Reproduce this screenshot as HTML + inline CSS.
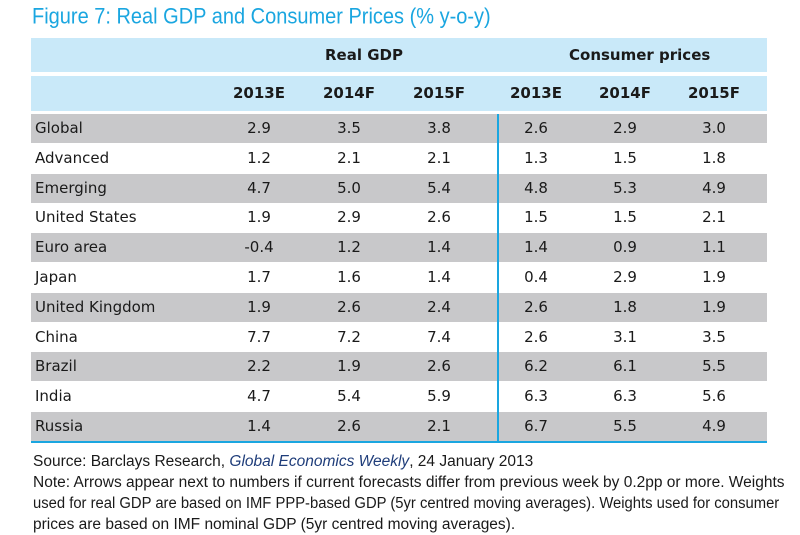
<!DOCTYPE html>
<html><head><meta charset="utf-8"><style>
body{margin:0;width:800px;height:527px;background:#fff;position:relative;overflow:hidden;font-family:"DejaVu Sans","Liberation Sans",sans-serif;color:#1a1a1a}
.a{position:absolute}
.title{left:32px;top:5px;font-size:20px;color:#1aa6e0;font-family:"Liberation Sans",sans-serif;transform:scaleY(1.1);transform-origin:left top}
.band{left:31px;width:736px;background:#c9e9f9}
.row{left:31px;width:736px;height:29px}
.g{background:#c8c8ca}
.c{position:absolute;width:80px;text-align:center;font-size:15px;line-height:29px;top:0}
.lab{position:absolute;left:4px;font-size:15px;line-height:29px;top:0}
.h{font-weight:bold;font-size:15px}
.src{left:33px;font-size:15.5px;line-height:21px;top:451px;white-space:nowrap;font-family:"Liberation Sans",sans-serif}
.src span{display:block;transform-origin:left center}
</style></head><body>
<div class="a title">Figure 7: Real GDP and Consumer Prices (% y-o-y)</div>
<div class="a band" style="top:38px;height:34px">
 <div class="a h" style="left:294px;top:8px">Real GDP</div>
 <div class="a h" style="left:538px;top:8px">Consumer prices</div>
</div>
<div class="a band" id="yh" style="top:76px;height:35px"></div>
<div id="rows"></div>
<div class="a" style="left:497px;top:114px;width:2px;height:328px;background:#1aa6e0"></div>
<div class="a" style="left:31px;top:441px;width:736px;height:2px;background:#1aa6e0"></div>
<div class="a src"><span>Source: Barclays Research, <i style="color:#1f3d7a">Global Economics Weekly</i>, 24 January 2013</span><span>Note: Arrows appear next to numbers if current forecasts differ from previous week by 0.2pp or more. Weights</span><span style="transform:scaleX(0.955)">used for real GDP are based on IMF PPP-based GDP (5yr centred moving averages). Weights used for consumer</span><span>prices are based on IMF nominal GDP (5yr centred moving averages).</span></div>
<script>
const years=["2013E","2014F","2015F","2013E","2014F","2015F"];
const countries=["Global","Advanced","Emerging","United States","Euro area","Japan","United Kingdom","China","Brazil","India","Russia"];
const gdp=[[2.9,3.5,3.8],[1.2,2.1,2.1],[4.7,5.0,5.4],[1.9,2.9,2.6],[-0.4,1.2,1.4],[1.7,1.6,1.4],[1.9,2.6,2.4],[7.7,7.2,7.4],[2.2,1.9,2.6],[4.7,5.4,5.9],[1.4,2.6,2.1]];
const cpi=[[2.6,2.9,3.0],[1.3,1.5,1.8],[4.8,5.3,4.9],[1.5,1.5,2.1],[1.4,0.9,1.1],[0.4,2.9,1.9],[2.6,1.8,1.9],[2.6,3.1,3.5],[6.2,6.1,5.5],[6.3,6.3,5.6],[6.7,5.5,4.9]];
const colX=[219,309,399,496,585,674];
const yh=document.getElementById('yh');
years.forEach((y,i)=>{const d=document.createElement('div');d.className='c h';d.style.left=colX[i]-31+'px';d.style.top='3px';d.textContent=y;


yh.appendChild(d);});
const R=document.getElementById('rows');
countries.forEach((c,r)=>{const row=document.createElement('div');row.className='a row'+(r%2==0?' g':'');row.style.top=(114+r*29.8)+'px';


const l=document.createElement('div');l.className='lab';l.textContent=c;


row.appendChild(l);
gdp[r].concat(cpi[r]).forEach((v,i)=>{const d=document.createElement('div');d.className='c';d.style.left=colX[i]-31+'px';d.textContent=v.toFixed(1);


row.appendChild(d);});
R.appendChild(row);});
</script>
</body></html>
